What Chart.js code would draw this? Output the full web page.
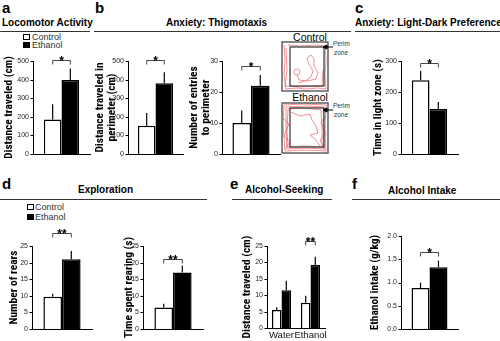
<!DOCTYPE html>
<html>
<head>
<meta charset="utf-8">
<script src="https://cdn.jsdelivr.net/npm/chart.js@4/dist/chart.umd.min.js"></script>
<style>
  body { margin: 0; width: 500px; height: 341px; position: relative; overflow: hidden; background: #fff;
         font-family: "Liberation Sans", Arial, sans-serif; color: #000; }
  canvas, .t, .rule, .sq, svg { position: absolute; }
  canvas { z-index: 2; }
  .letter { font-weight: bold; font-size: 15px; line-height: 1; }
  .hd { font-weight: bold; font-size: 10px; white-space: nowrap; line-height: 1; }
  .rule { height: 1px; background: #333; }
  .lg { font-size: 9px; color: #333; line-height: 1; }
  .sq { width: 7px; height: 6px; border: 1px solid #000; box-sizing: border-box; }
</style>
</head>
<body>
<!-- panel letters and headings -->
<div class="t letter" style="left:2px;top:0px">a</div>
<div class="t letter" style="left:95px;top:0px">b</div>
<div class="t letter" style="left:355px;top:0px">c</div>
<div class="t letter" style="left:2px;top:176px">d</div>
<div class="t letter" style="left:230px;top:176px">e</div>
<div class="t letter" style="left:352px;top:176px">f</div>

<div class="t hd" style="left:2px;top:18px">Locomotor Activity</div>
<div class="t hd" style="left:166px;top:18px">Anxiety: Thigmotaxis</div>
<div class="t hd" style="left:355px;top:18px">Anxiety: Light-Dark Preference</div>
<div class="t hd" style="left:78px;top:185px">Exploration</div>
<div class="t hd" style="left:245px;top:185px">Alcohol-Seeking</div>
<div class="t hd" style="left:388px;top:186px">Alcohol Intake</div>

<div class="rule" style="left:0;top:31px;width:90px"></div>
<div class="rule" style="left:94px;top:31px;width:257px"></div>
<div class="rule" style="left:355px;top:31px;width:145px"></div>
<div class="rule" style="left:0;top:199px;width:207px"></div>
<div class="rule" style="left:232px;top:199px;width:100px"></div>
<div class="rule" style="left:352px;top:199px;width:148px"></div>

<!-- legends -->
<div class="sq" style="left:23px;top:34px;background:#fff"></div>
<div class="t lg" style="left:32px;top:33px">Control</div>
<div class="sq" style="left:23px;top:42px;background:#000"></div>
<div class="t lg" style="left:32px;top:41px">Ethanol</div>
<div class="sq" style="left:27px;top:204px;background:#fff"></div>
<div class="t lg" style="left:35px;top:203px">Control</div>
<div class="sq" style="left:27px;top:214px;background:#000"></div>
<div class="t lg" style="left:35px;top:213px">Ethanol</div>

<!-- open-field track illustration -->
<svg style="left:278px;top:28px" width="72" height="130" viewBox="278 28 72 130">
  <g font-family="Liberation Sans, Arial, sans-serif" fill="#000">
    <text x="310" y="41" font-size="10.5" text-anchor="middle">Control</text>
    <text x="310" y="101" font-size="10.5" text-anchor="middle">Ethanol</text>
    <text x="333" y="46" font-size="6.5" fill="#333">Perimeter</text>
    <text x="334" y="55" font-size="6.5" fill="#333">zone</text>
    <text x="333" y="108" font-size="6.5" fill="#333">Perimeter</text>
    <text x="334" y="117" font-size="6.5" fill="#333">zone</text>
  </g>
  <g fill="none" stroke="#e8474b" stroke-width="0.6">
    <path d="M284,45 L285,60 L284,75 L286,89 L296,88 L306,89 L318,88 L326,89 L325,75 L326,60 L325,46 L315,45 L300,46 L288,45"/>
    <path d="M286,48 L287,70 L285,86 L300,87 L322,86 L323,70"/>
    <path d="M298,83 L305,81 L311,77 L313,71 L309,64 L307,58 L311,55 L314,59 L314,66 L318,72 L316,79 L307,81 L299,80 L297,75"/>
    <circle cx="297" cy="72" r="3"/>
    <path d="M284,105 L283,125 L285,151 L305,150 L326,151 L325,130 L326,105 L305,104 Z"/>
    <path d="M286,107 L286,128 L287,149 L306,148 L324,149 L323,128 L324,107 L306,106 Z"/>
    <path d="M288,109 L287,130 L288,147 L305,146 L322,147 L322,128 L321,110 L305,108 Z"/>
    <path d="M291,112 L300,116 L310,114 L312,120 L316,126 L318,133 L310,135 L316,140 L320,146"/>
    <path d="M283,118 L289,124 L284,136 L290,142 L285,149"/>
    <path d="M326,116 L321,122 L326,134 L320,140 L325,150"/>
  </g>
  <g fill="none" stroke="#555" stroke-width="1.4">
    <rect x="282" y="42" width="46" height="49"/>
    <rect x="282" y="103" width="46" height="50"/>
  </g>
  <g fill="none" stroke="#333" stroke-width="1.2">
    <rect x="290" y="47" width="34" height="39"/>
    <rect x="290" y="108" width="34" height="39"/>
  </g>
  <g stroke="#000" stroke-width="1" fill="#000">
    <line x1="333" y1="47" x2="325" y2="47"/>
    <path d="M323,47 L327,45 L327,49 Z"/>
    <line x1="333" y1="110" x2="325" y2="110"/>
    <path d="M323,110 L327,108 L327,112 Z"/>
  </g>
</svg>

<canvas id="a"></canvas>
<canvas id="b1"></canvas>
<canvas id="b2"></canvas>
<canvas id="c"></canvas>
<canvas id="d1"></canvas>
<canvas id="d2"></canvas>
<canvas id="e"></canvas>
<canvas id="f"></canvas>

<script>
// --- data ---
const groups = ['Control', 'Ethanol'];
const locoMean = [185, 398], locoErr = [83, 62];
const periMean = [152, 380], periErr = [68, 60];
const entriesMean = [10, 22], entriesErr = [4, 3.5];
const lightMean = [238, 145], lightErr = [30, 23];
const rearsMean = [9.7, 21], rearsErr = [0.9, 2.5];
const rearTimeMean = [6.5, 17], rearTimeErr = [1.1, 2.1];
const seekCats = ['Water', 'Ethanol'];
const seekControl = [5.5, 7.7], seekControlErr = [0.8, 2.1];
const seekEthanol = [11.5, 19.2], seekEthanolErr = [2.9, 2.5];
const intakeMean = [0.88, 1.33], intakeErr = [0.12, 0.14];

const FONT = '"Liberation Sans", Arial, sans-serif';
const TITLE_FONT = '"Roboto Condensed", "DejaVu Sans Condensed", "Liberation Sans", sans-serif';
const LINE_H = 12.1;

// error bars and significance brackets
const errorBars = {
  id: 'errorBars',
  afterDatasetsDraw(chart, args, opts) {
    const ctx = chart.ctx, y = chart.scales.y;
    ctx.save();
    ctx.strokeStyle = '#000';
    ctx.lineWidth = 1.2;
    chart.data.datasets.forEach((ds, i) => {
      chart.getDatasetMeta(i).data.forEach((bar, j) => {
        const top = y.getPixelForValue(ds.data[j] + ds.err[j]);
        ctx.beginPath();
        ctx.moveTo(bar.x, bar.y);
        ctx.lineTo(bar.x, top);
        ctx.stroke();
      });
    });
    (opts.sig || []).forEach(s => {
      const b0 = chart.getDatasetMeta(0).data[s.at];
      const b1 = chart.getDatasetMeta(1).data[s.at];
      const py = Math.round(y.getPixelForValue(s.level)) + 0.5;
      ctx.lineWidth = 0.9;
      ctx.strokeStyle = '#333';
      ctx.beginPath();
      ctx.moveTo(b0.x, py + 4); ctx.lineTo(b0.x, py); ctx.lineTo(b1.x, py); ctx.lineTo(b1.x, py + 4);
      ctx.stroke();
      ctx.fillStyle = '#000';
      ctx.font = 'bold 12px ' + FONT;
      ctx.textAlign = 'center';
      ctx.textBaseline = 'alphabetic';
      ctx.fillText(s.mark, (b0.x + b1.x) / 2, py + 4);
    });
    ctx.restore();
  }
};

// y axis line, tick marks and tick labels, placed by the y scale
const axisMarks = {
  id: 'axisMarks',
  afterDraw(chart, args, opts) {
    const ctx = chart.ctx, y = chart.scales.y, x = chart.scales.x;
    const left = x.left, top = y.top, bottom = y.bottom;
    let ticks = y.ticks.map(t => t.value);
    if (!ticks.length) {
      for (let v = 0; v <= opts.max + 1e-9; v += opts.step) ticks.push(v);
    }
    ctx.save();
    const ax = Math.round(left) + 0.5;
    ctx.strokeStyle = '#000';
    ctx.lineWidth = 1;
    ctx.beginPath();
    ctx.moveTo(ax, top);
    ctx.lineTo(ax, bottom);
    ticks.forEach(v => {
      const py = Math.round(y.getPixelForValue(v)) + 0.5;
      ctx.moveTo(ax - 3, py);
      ctx.lineTo(ax, py);
    });
    ctx.stroke();
    ctx.fillStyle = '#222';
    ctx.font = '7px ' + FONT;
    ctx.textAlign = 'right';
    ctx.textBaseline = 'middle';
    ticks.forEach(v => {
      const txt = opts.dec ? v.toFixed(opts.dec) : String(v);
      ctx.fillText(txt, left - 4, y.getPixelForValue(v));
    });
    if (opts.xLabels) {
      ctx.fillStyle = '#111';
      ctx.font = '9.5px ' + FONT;
      ctx.textAlign = 'center';
      ctx.textBaseline = 'top';
      chart.data.labels.forEach((lab, i) => ctx.fillText(lab, x.getPixelForValue(i), bottom + 3));
    }
    ctx.restore();
  }
};

function pairSets(ctrl, ctrlErr, eth, ethErr) {
  return [
    { label: groups[0], data: ctrl, err: ctrlErr, backgroundColor: '#fff', borderColor: '#000', borderWidth: 1.5 },
    { label: groups[1], data: eth, err: ethErr, backgroundColor: '#000', borderColor: '#000', borderWidth: 1.5 }
  ];
}

function build(p, extraH) {
  const cv = document.getElementById(p.id);
  const xh = p.xh || 2;
  const padBottom = p.xh ? 0 : (p.padB || 2);
  const titleOff = Math.max(0, p.titleX - p.left - LINE_H / 2);
  const w = p.axisR - p.left + 4;
  const h = p.axisB - p.top + xh + padBottom + extraH;
  cv.width = w; cv.height = h;
  cv.style.left = p.left + 'px';
  cv.style.top = p.top + 'px';
  return new Chart(cv, {
    type: 'bar',
    data: { labels: p.labels, datasets: p.datasets },
    options: {
      responsive: false,
      animation: false,
      devicePixelRatio: 1,
      layout: { padding: { left: 0, right: 4, top: p.axisT - p.top, bottom: padBottom } },
      datasets: { bar: { barPercentage: 1, categoryPercentage: p.cat || 0.62 } },
      plugins: {
        legend: { display: false }, tooltip: { enabled: false },
        errorBars: { sig: p.sig },
        axisMarks: { dec: p.dec, xLabels: !!p.xh, max: p.max, step: p.step }
      },
      scales: {
        x: {
          grid: { display: false },
          border: { display: true, color: '#000', width: 1 },
          ticks: { display: false },
          afterFit(s) { s.height = xh; }
        },
        y: {
          min: 0, max: p.max,
          ticks: { display: false, stepSize: p.step },
          grid: { display: false },
          border: { display: false },
          title: {
            display: true, text: p.title, color: '#000', padding: { top: titleOff, bottom: 0 },
            font: { family: TITLE_FONT, size: 11.4, weight: 'bold', lineHeight: 1.06 }
          },
          afterFit(s) { s.width = p.axisL - p.left; }
        }
      }
    },
    plugins: [errorBars, axisMarks]
  });
}

// build once, then grow the canvas so the x axis lands where the figure has it
function drawPanel(p) {
  let ch = build(p, 0);
  const diff = Math.round((p.axisB - p.top) - ch.chartArea.bottom);
  if (diff !== 0) {
    ch.destroy();
    ch = build(p, diff);
  }
}

const panels = [
  { id: 'a', left: 0, top: 44, axisL: 33, axisT: 61, axisB: 154, axisR: 90, titleX: 9,
    title: 'Distance traveled (cm)', max: 500, step: 100, labels: [''],
    datasets: pairSets([locoMean[0]], [locoErr[0]], [locoMean[1]], [locoErr[1]]),
    sig: [{ at: 0, level: 505, mark: '*' }] },
  { id: 'b1', left: 92, top: 44, axisL: 128, axisT: 61, axisB: 154, axisR: 183, titleX: 100,
    title: ['Distance traveled in', 'perimeter (cm)'], max: 500, step: 100, labels: [''], cat: 0.64,
    datasets: pairSets([periMean[0]], [periErr[0]], [periMean[1]], [periErr[1]]),
    sig: [{ at: 0, level: 505, mark: '*' }] },
  { id: 'b2', left: 186, top: 44, axisL: 222, axisT: 61, axisB: 154, axisR: 280, titleX: 194,
    title: ['Number of entries', 'to perimeter'], max: 30, step: 10, labels: [''], cat: 0.64,
    datasets: pairSets([entriesMean[0]], [entriesErr[0]], [entriesMean[1]], [entriesErr[1]]),
    sig: [{ at: 0, level: 28.5, mark: '*' }] },
  { id: 'c', left: 362, top: 44, axisL: 401, axisT: 61, axisB: 154, axisR: 458, titleX: 378,
    title: 'Time in light zone (s)', max: 300, step: 100, labels: [''],
    datasets: pairSets([lightMean[0]], [lightErr[0]], [lightMean[1]], [lightErr[1]]),
    sig: [{ at: 0, level: 293, mark: '*' }] },
  { id: 'd1', left: 0, top: 222, axisL: 32, axisT: 246, axisB: 329, axisR: 92, titleX: 14, padB: 10,
    title: 'Number of rears', max: 25, step: 5, labels: [''],
    datasets: pairSets([rearsMean[0]], [rearsErr[0]], [rearsMean[1]], [rearsErr[1]]),
    sig: [{ at: 0, level: 28.9, mark: '**' }] },
  { id: 'd2', left: 110, top: 222, axisL: 143, axisT: 246, axisB: 329, axisR: 203, titleX: 129, padB: 10,
    title: 'Time spent rearing (s)', max: 25, step: 5, labels: [''],
    datasets: pairSets([rearTimeMean[0]], [rearTimeErr[0]], [rearTimeMean[1]], [rearTimeErr[1]]),
    sig: [{ at: 0, level: 21.1, mark: '**' }] },
  { id: 'e', left: 230, top: 222, axisL: 267, axisT: 246, axisB: 328, axisR: 325, titleX: 247, xh: 13,
    title: 'Distance traveled (cm)', max: 25, step: 5, labels: seekCats, cat: 0.66,
    datasets: pairSets(seekControl, seekControlErr, seekEthanol, seekEthanolErr),
    sig: [{ at: 1, level: 26.5, mark: '**' }] },
  { id: 'f', left: 362, top: 222, axisL: 401, axisT: 236, axisB: 329, axisR: 458, titleX: 375, padB: 10,
    title: 'Ethanol intake (g/kg)', max: 2, step: 0.5, dec: 1, labels: [''], cat: 0.63,
    datasets: pairSets([intakeMean[0]], [intakeErr[0]], [intakeMean[1]], [intakeErr[1]]),
    sig: [{ at: 0, level: 1.66, mark: '*' }] }
];

panels.forEach(drawPanel);
</script>
</body>
</html>
